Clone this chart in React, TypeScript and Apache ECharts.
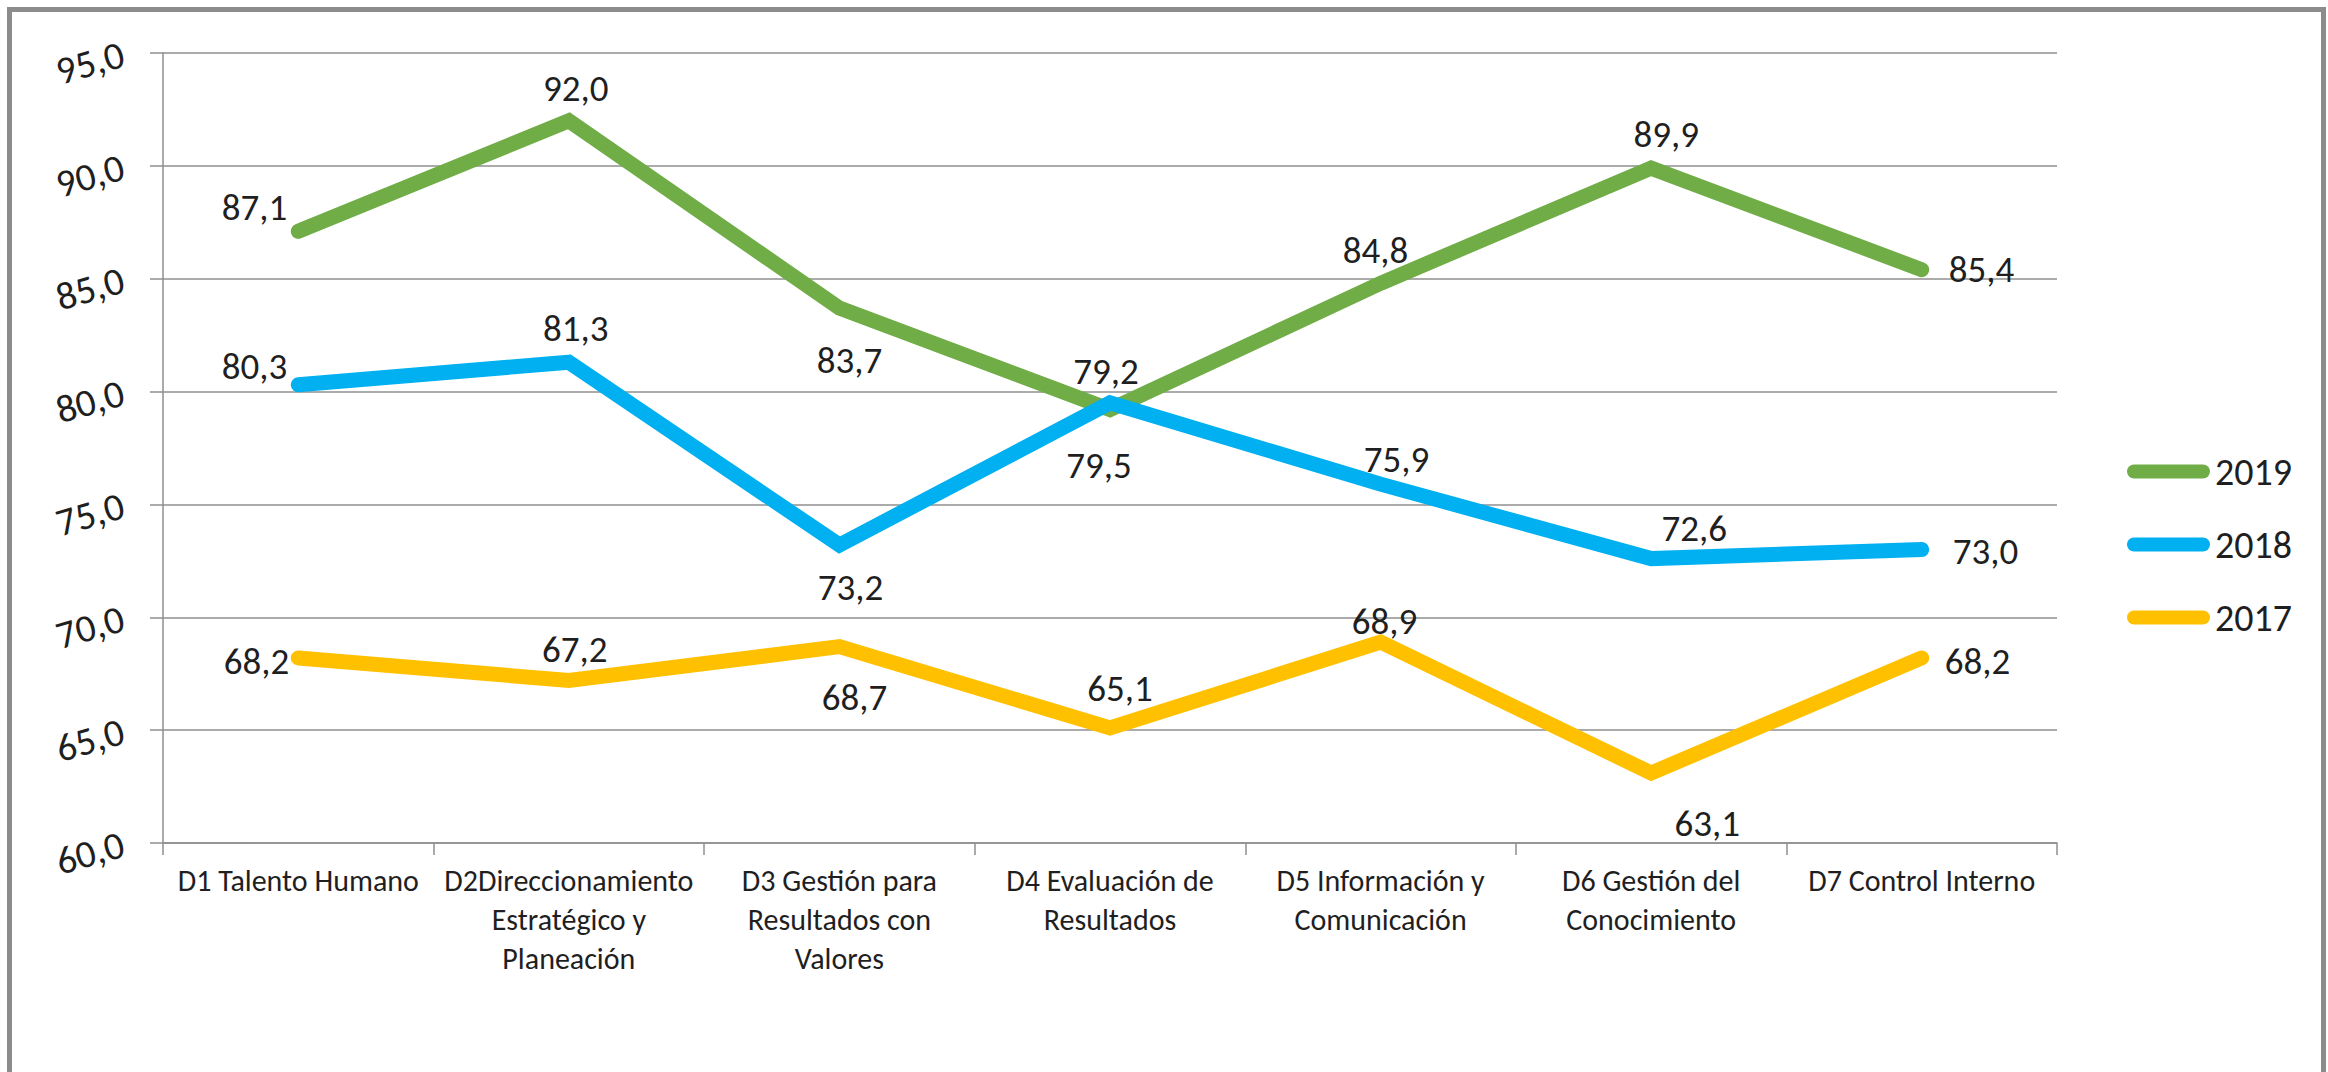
import React, { useEffect, useRef } from "react";
import * as echarts from "echarts";

const categories = [
  "D1 Talento Humano",
  "D2Direccionamiento\nEstratégico y\nPlaneación",
  "D3 Gestión para\nResultados con\nValores",
  "D4 Evaluación de\nResultados",
  "D5 Información y\nComunicación",
  "D6 Gestión del\nConocimiento",
  "D7 Control Interno",
];

const seriesNames = ["2019", "2018", "2017"];
const values2019 = [87.1, 92.0, 83.7, 79.2, 84.8, 89.9, 85.4];
const values2018 = [80.3, 81.3, 73.2, 79.5, 75.9, 72.6, 73.0];
const values2017 = [68.2, 67.2, 68.7, 65.1, 68.9, 63.1, 68.2];

const yMin = 60;
const yMax = 95;
const yStep = 5;

// label placement (style): [position, dx, dy]
const place2019: [string, number, number][] = [
  ["left", 0, -24], ["inside", 7, -32], ["inside", 10, 52], ["inside", -4, -38],
  ["inside", -5, -33], ["inside", 15, -34], ["right", 16, 0],
];
const place2018: [string, number, number][] = [
  ["left", 0, -18], ["inside", 7, -34], ["inside", 11, 42], ["inside", -11, 63],
  ["inside", 16, -25], ["inside", 43, -30], ["right", 20, 2],
];
const place2017: [string, number, number][] = [
  ["left", 2, 4], ["inside", 6, -31], ["inside", 15, 51], ["inside", 10, -39],
  ["inside", 4, -21], ["inside", 56, 50], ["right", 12, 4],
];

const colors = ["#70AD47", "#00B0F0", "#FFC000"];
const FONT = "Carlito, 'Liberation Sans Narrow', 'Noto Sans', sans-serif";
const TEXT = "#1f1f1f";
const GRID = "#8f8f8f";

const fmt = (v: number) => v.toFixed(1).replace(".", ",");

function buildData(vals: number[], place: [string, number, number][]) {
  return vals.map((v, i) => {
    const [pos, dx, dy] = place[i];
    return {
      value: v,
      label: {
        position: pos,
        distance: 10,
        offset: [dx, dy],
      },
    };
  });
}

export default function App() {
  const ref = useRef<HTMLDivElement>(null);
  useEffect(() => {
    if (!ref.current) return;
    const chart = echarts.init(ref.current, undefined, { renderer: "svg" });
    const allVals = [values2019, values2018, values2017];
    const allPlace = [place2019, place2018, place2017];
    const legendIcon = "path://M7 0H76A7 7 0 0 1 76 14H7A7 7 0 0 1 7 0Z";
    chart.setOption({
      animation: false,
      backgroundColor: "#ffffff",
      graphic: [
        {
          type: "rect",
          shape: { x: 9.5, y: 9.5, width: 2314, height: 1200 },
          style: { fill: "none", stroke: "#8c8c8c", lineWidth: 5 },
          silent: true,
        },
      ],
      grid: { left: 163, top: 53, right: 271, bottom: 229 },
      legend: {
        orient: "vertical",
        left: 2122,
        top: 446,
        itemWidth: 83,
        itemHeight: 14,
        itemGap: 32,
        icon: legendIcon,
        data: seriesNames,
        textStyle: { fontFamily: FONT, fontSize: 38, color: TEXT, lineHeight: 41 },
      },
      xAxis: {
        type: "category",
        data: categories,
        boundaryGap: true,
        axisLine: { show: true, lineStyle: { color: GRID, width: 1.5 } },
        axisTick: { show: true, length: 12, lineStyle: { color: GRID, width: 1.5 } },
        axisLabel: {
          interval: 0,
          margin: 18,
          fontFamily: FONT,
          fontSize: 30,
          lineHeight: 39,
          color: TEXT,
          align: "center",
        },
      },
      yAxis: {
        type: "value",
        min: yMin,
        max: yMax,
        interval: yStep,
        axisLine: { show: true, lineStyle: { color: GRID, width: 1.5 } },
        axisTick: { show: true, length: 13, lineStyle: { color: GRID, width: 1.5 } },
        splitLine: { show: true, lineStyle: { color: GRID, width: 1.5 } },
        axisLabel: {
          margin: 40,
          rotate: 16,
          fontFamily: FONT,
          fontSize: 39,
          color: TEXT,
          formatter: (v: number) => fmt(v),
        },
      },
      series: seriesNames.map((name, si) => ({
        name,
        type: "line",
        data: buildData(allVals[si], allPlace[si]),
        symbol: "circle",
        symbolSize: 2,
        showSymbol: true,
        color: colors[si],
        itemStyle: { color: colors[si] },
        lineStyle: { color: colors[si], width: 15, cap: "round", join: "miter" },
        label: {
          show: true,
          fontFamily: FONT,
          fontSize: 37,
          color: TEXT,
          formatter: (p: any) => fmt(p.value),
        },
        emphasis: { disabled: true },
        z: 2 + si,
      })),
    });
    return () => chart.dispose();
  }, []);
  return (
    <div
      ref={ref}
      style={{ position: "absolute", left: 0, top: 0, width: 2328, height: 1072 }}
    />
  );
}
